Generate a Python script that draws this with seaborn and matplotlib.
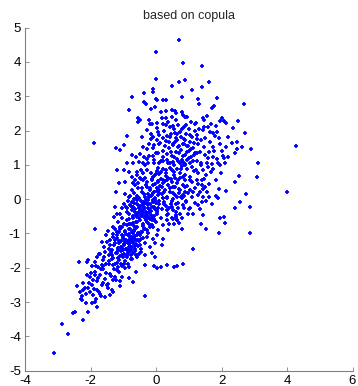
import matplotlib
matplotlib.use("Agg")
import matplotlib.pyplot as plt
import seaborn as sns
import pandas as pd

# Samples drawn from the copula-based joint distribution (x, y)
x_vals = [
    0.70, 0.01, 0.81, 1.39, 0.01, 0.89, 0.70, 1.63, 0.48, 1.39, 1.09, -0.08, -0.08, -0.36, -0.73, 0.80,
    1.87, -0.01, 0.02, 0.20, 0.31, 1.29, -0.36, -0.31, 1.31, 2.70, -0.02, -0.81, -0.16, 1.71, 1.77,
    -0.54, -0.50, -0.56, -0.22, 0.15, 0.30, 0.50, 0.57, 0.61, 0.78, 0.90, 0.95, 0.32, 0.48, 0.17, 0.02,
    -0.12, -0.18, 0.20, 0.30, 0.52, 0.68, 0.86, 1.06, 1.22, 1.42, 1.46, 1.56, 1.67, 1.94, 2.02, 2.09,
    2.15, 2.49, 2.36, 1.84, 1.60, 1.19, 1.30, -0.29, -0.88, 0.02, 0.42, 0.58, 0.78, 1.01, 1.44, 2.71,
    1.85, 1.73,
    -1.88, -1.21, -0.97, -0.09, 0.10, 0.33, 0.46, 0.61, 0.75, 0.92, 1.10, 1.24, 1.37, 1.49, 1.65, 1.91,
    1.95, 2.33, 2.46, 2.62, 2.89, 4.26, -0.41, -0.21, -0.06, 0.12, 0.28, 0.41, 0.53, 0.68, 0.82, 0.99,
    1.12, 1.29, 1.46, 1.74, 2.15, 2.47, 2.42, 2.00, 0.02, 0.22, -0.15, 0.58, 0.89, 1.04,
    -0.74, -0.61, -0.49, -0.37, -0.26, -0.10, 0.07, 0.20, 0.33, 0.45, 0.55, 0.71, 0.83, 0.96, 1.06, 1.19,
    1.34, 1.50, 1.63, 1.73, 1.85, 2.08, 2.20, -0.90, -0.69, -0.51, -0.39, -0.23, -0.06, 0.10, 0.22, 0.38,
    0.51, 0.63, 0.73, 0.81, 0.89, 0.94, 1.04, 1.24, 1.37, 1.55, 1.70, 1.95, 3.12, 2.12, -1.20, -0.98,
    -1.10,
    -0.81, -0.74, -0.59, -0.64, -0.47, -0.39, -0.28, -0.16, -0.08, 0.02, 0.10, 0.22, 0.31, 0.38, 0.48,
    0.55, 0.63, 0.73, 0.81, 0.94, 1.04, 1.16, 1.29, 1.44, 1.52, 1.60, 1.75, 2.52, 3.09, 2.41, 1.39, 1.24,
    1.09, 0.89, 0.68, 0.48, 0.22, 0.07, -0.13, -0.28, -0.54, -0.95, -1.12, -1.22, -0.69, -0.39, -0.03,
    0.33,
    -0.74, -0.67, -0.54, -0.44, -0.28, -0.18, -0.08, -0.06, 0.02, 0.10, 0.17, 0.24, 0.33, 0.43, 0.51,
    0.58, 0.65, 0.73, 0.81, 0.89, 0.99, 1.09, 1.19, 1.29, 1.39, 1.50, 1.55, 1.63, 2.15, 2.74, 3.99, 1.83,
    1.90, -0.84, -0.95, -0.59, -0.34, -0.13, 0.20, 0.53, 0.78, 1.04, 1.34, 1.44,
    -1.25, -1.10, -0.98, -0.90, -0.81, -0.74, -0.69, -0.64, -0.57, -0.51, -0.47, -0.41, -0.37, -0.31,
    -0.26, -0.20, -0.16, -0.10, -0.06, 0.02, 0.10, 0.17, 0.24, 0.31, 0.38, 0.45, 0.53, 0.61, 0.68, 0.81,
    0.92, 1.04, 1.14, 1.29, 1.39, 1.44, 2.56, 2.41, 2.86, -0.59, -0.79, -0.44, -0.54, -0.23, -0.03, 0.07,
    0.33, 0.48, 0.61, 0.73, 0.99, -0.34, -0.71, -1.05, -1.18,
    -1.27, -1.15, -1.05, -0.98, -0.90, -0.84, -0.77, -0.71, -0.67, -0.61, -0.57, -0.51, -0.47, -0.41,
    -0.37, -0.31, -0.26, -0.20, -0.13, -0.08, 0.00, 0.07, 0.14, 0.22, 0.33, 0.41, 0.48, 0.55, 0.63, 0.71,
    0.78, -1.85, -1.48, -1.30, -1.20, -1.10, -0.95, -0.74, -0.23, 1.37, 1.53, 1.91, 1.94, 2.08, 2.12,
    2.86, 0.38, 0.60, -0.59,
    -1.53, -1.40, -1.30, -1.25, -1.18, -1.12, -1.08, -1.02, -0.98, -0.92, -0.87, -0.83, -0.79, -0.74,
    -0.69, -0.64, -0.59, -0.54, -0.49, -0.41, -0.34, -0.26, -0.18, -0.10, -0.03, 0.20, 0.17, 1.12, -1.65,
    -1.60, -1.45, -1.35, -1.15, -1.00, -0.90, -1.05, -0.76, -0.66, -0.56, -0.45, 0.02, -0.95, -0.81,
    -1.81, -1.71, -1.61, -1.53, -1.45, -1.35, -1.25, -1.20, -1.12, -1.05, -0.98, -0.90, -0.81, -0.77,
    -0.69, -0.59, -0.51, -0.45, -0.34, -0.13, -0.03, -1.86, -1.76, -1.66, -1.30, -1.15, -0.95, -0.84,
    -0.34, -0.05, 0.02, 0.14, 0.33, 0.55, 0.65, 0.81, -2.35, -2.11, -2.09,
    -2.12, -2.01, -1.93, -1.86, -1.79, -1.71, -1.63, -1.56, -1.48, -1.40, -1.32, -1.25, -1.20, -1.10,
    -1.05, -0.81, -0.69, -0.61, -2.22, -1.96, -1.66, -1.51, -1.10,
    -2.40, -2.32, -2.27, -2.22, -2.14, -2.07, -2.01, -1.91, -1.81, -1.71, -1.56, -1.42, -1.35, -1.68,
    -1.83, -0.34, -2.27,
    -2.14, -2.09, -1.79, -1.86, -1.96, -2.52, -2.47, -2.22, -2.86, -2.68, -3.11,
]
y_vals = [
    4.65, 4.28, 3.98, 3.87, 3.50, 3.46, 3.40, 3.42, 3.29, 3.28, 3.18, 3.21, 3.12, 3.09, 2.97, 2.98,
    2.96, 2.92, 2.89, 2.89, 2.89, 2.92, 2.83, 2.77, 2.76, 2.77, 2.68, 2.60, 2.63, 2.67, 2.72,
    2.35, 2.30, 2.25, 2.32, 2.54, 2.58, 2.61, 2.57, 2.50, 2.53, 2.40, 2.38, 2.36, 2.40, 2.35, 2.23,
    2.20, 2.19, 2.19, 2.16, 2.13, 2.16, 2.11, 2.24, 2.23, 2.37, 2.32, 2.42, 2.19, 2.28, 2.35, 2.28,
    2.21, 2.27, 2.08, 2.13, 2.11, 2.18, 2.03, 2.02, 1.83, 2.07, 2.09, 1.94, 2.03, 2.03, 2.01, 1.92,
    1.96, 1.93,
    1.64, 1.49, 1.59, 1.82, 1.87, 1.84, 1.89, 1.78, 1.82, 1.89, 1.82, 1.87, 1.72, 1.77, 1.67, 1.79,
    1.62, 1.64, 1.67, 1.51, 1.47, 1.55, 1.53, 1.62, 1.59, 1.64, 1.55, 1.67, 1.59, 1.53, 1.60, 1.55,
    1.48, 1.62, 1.53, 1.53, 1.53, 1.45, 1.33, 1.41, 1.72, 1.77, 1.74, 1.67, 1.72, 1.67,
    1.28, 1.23, 1.31, 1.23, 1.18, 1.25, 1.33, 1.23, 1.31, 1.38, 1.23, 1.33, 1.25, 1.38, 1.23, 1.33,
    1.38, 1.28, 1.38, 1.23, 1.16, 1.21, 1.23, 1.04, 1.06, 1.09, 1.04, 1.06, 1.14, 1.04, 1.12, 1.04,
    1.09, 1.16, 1.04, 1.09, 1.02, 1.14, 1.06, 1.12, 1.04, 1.06, 1.02, 0.99, 1.06, 1.04, 0.85, 0.85,
    1.43,
    0.80, 0.65, 0.70, 0.55, 0.60, 0.75, 0.85, 0.77, 0.65, 0.83, 0.73, 0.89, 0.75, 0.63, 0.85,
    0.70, 0.89, 0.77, 0.65, 0.89, 0.65, 0.83, 0.75, 0.85, 0.70, 0.94, 0.89, 0.67, 0.65, 0.51, 0.55, 0.55,
    0.51, 0.55, 0.55, 0.51, 0.55, 0.51, 0.55, 0.51, 0.46, 0.51, 0.46, 0.21, 0.46, 0.55, 0.70,
    0.55,
    0.26, 0.17, 0.31, 0.21, 0.36, 0.26, 0.41, 0.21, 0.31, 0.17, 0.36, 0.21, 0.07, 0.31, 0.17,
    0.36, 0.07, 0.26, 0.12, 0.36, 0.17, 0.07, 0.31, 0.12, 0.41, 0.36, 0.21, 0.07, 0.24, 0.15, 0.21, 0.09,
    0.02, 0.07, 0.15, 0.02, 0.07, 0.12, 0.02, 0.00, 0.02, 0.26, 0.21, 0.07,
    -0.24, -0.42, -0.13, -0.27, -0.42, -0.08, -0.22, -0.37, -0.13, -0.27, -0.47, -0.08, -0.22, -0.37,
    -0.15, -0.30, -0.47, -0.08, -0.22, -0.37, -0.13, -0.30, -0.08, -0.20, -0.42, -0.13, -0.32, -0.47,
    -0.27, -0.17, -0.08, -0.27, -0.42, -0.17, -0.08, -0.47, -0.08, -0.27, -0.22, -0.03, -0.17, -0.17,
    -0.42, -0.03, -0.03, -0.27, -0.32, -0.24, -0.15, -0.42, -0.42, -0.50, -0.50, -0.27, -0.42,
    -0.52, -0.66, -0.56, -0.73, -0.61, -0.86, -0.71, -0.56, -0.90, -0.66, -0.81, -0.56, -0.95, -0.71,
    -0.86, -0.61, -0.90, -0.73, -0.56, -0.81, -0.66, -0.90, -0.56, -0.76, -0.61, -0.71, -0.56, -0.73,
    -0.61, -0.69, -0.86, -0.88, -0.92, -0.81, -0.95, -0.88, -0.95, -0.95, -1.00, -0.73, -0.86, -0.98,
    -0.56, -0.53, -0.69, -0.98, -0.90, -0.52, -0.52,
    -1.05, -1.18, -1.10, -1.29, -1.05, -1.21, -1.39, -1.13, -1.30, -1.44, -1.05, -1.20, -1.37, -1.10,
    -1.27, -1.44, -1.05, -1.20, -1.34, -1.13, -1.29, -1.10, -1.39, -1.15, -1.29, -1.15, -1.34, -1.44,
    -1.24, -1.39, -1.44, -1.47, -1.47, -1.49, -1.24, -1.05, -1.24, -1.13, -1.37, -1.44, -1.05, -1.18,
    -1.49,
    -1.68, -1.60, -1.78, -1.88, -1.63, -1.73, -1.88, -1.58, -1.78, -1.63, -1.88, -1.68, -1.54, -1.73,
    -1.58, -1.68, -1.60, -1.54, -1.63, -1.58, -1.68, -1.83, -1.98, -1.93, -1.93, -1.98, -2.02, -1.98,
    -1.93, -1.96, -2.02, -1.98, -1.91, -1.98, -1.94, -1.88, -1.83, -1.83, -1.78,
    -2.22, -2.26, -2.36, -2.12, -2.40, -2.22, -2.05, -2.32, -2.46, -2.17, -2.36, -2.26, -2.07, -2.40,
    -2.26, -2.29, -2.42, -2.12, -2.45, -2.50, -2.50, -2.51, -2.54,
    -2.54, -2.70, -2.83, -2.65, -2.75, -2.60, -2.70, -2.80, -2.65, -2.75, -2.85, -2.80, -2.65, -2.83,
    -2.90, -2.83, -2.95,
    -3.04, -3.28, -3.14, -2.99, -3.02, -3.33, -3.30, -3.53, -3.64, -3.92, -4.47,
]

# Additional samples in the dense parts of the cloud, as (x, y) pairs
core_mid = [
    (-0.85, -0.05), (-0.78, 0.08), (-0.72, -0.31), (-0.66, -0.12), (-0.62, -0.45), (-0.58, 0.10),
    (-0.53, -0.19), (-0.49, -0.62), (-0.46, -0.04), (-0.43, -0.35), (-0.40, -0.78), (-0.38, 0.14),
    (-0.35, -0.55), (-0.33, -0.10), (-0.29, -0.44), (-0.27, -0.68), (-0.24, -0.26), (-0.22, 0.05),
    (-0.19, -0.58), (-0.17, -0.14), (-0.14, -0.36), (-0.12, -0.75), (-0.09, -0.02), (-0.07, -0.49),
    (-0.04, -0.28), (-0.02, -0.64), (0.01, -0.12), (0.04, -0.44), (0.06, 0.12), (-0.88, -0.38),
    (-0.81, -0.58), (-0.76, -0.20), (-0.70, -0.70), (-0.64, -0.28), (-0.60, -0.83), (-0.55, -0.40),
    (-0.52, 0.02), (-0.48, -0.25), (-0.44, -0.50), (-0.41, -0.15), (-0.36, -0.30), (-0.32, -0.62),
    (-0.30, -0.02), (-0.25, -0.52), (-0.21, -0.38), (-0.18, -0.80), (-0.15, 0.10), (-0.11, -0.22),
    (-0.06, -0.58), (-0.03, 0.04), (-0.92, -0.22), (-0.83, -0.72), (-0.68, 0.00), (-0.57, -0.66),
    (-0.50, -0.34), (-0.39, -0.41), (-0.34, -0.86), (-0.23, -0.14), (-0.13, -0.62), (0.03, -0.33),
]
core_low = [
    (-1.32, -1.02), (-1.28, -1.35), (-1.24, -0.88), (-1.21, -1.58), (-1.19, -1.12), (-1.16, -1.41),
    (-1.13, -0.95), (-1.11, -1.66), (-1.08, -1.22), (-1.06, -1.50), (-1.04, -0.80), (-1.01, -1.08),
    (-0.99, -1.35), (-0.97, -1.60), (-0.95, -0.92), (-0.93, -1.18), (-0.91, -1.45), (-0.89, -0.75),
    (-0.87, -1.28), (-0.85, -1.55), (-0.83, -1.02), (-0.81, -1.32), (-0.79, -0.86), (-0.77, -1.15),
    (-0.75, -1.62), (-0.73, -1.40), (-0.71, -0.98), (-0.69, -1.22), (-0.67, -0.78), (-0.65, -1.50),
    (-0.63, -1.08), (-0.61, -1.30), (-1.26, -1.20), (-1.14, -1.28), (-1.10, -0.82), (-1.03, -1.42),
    (-1.00, -1.70), (-0.96, -1.25), (-0.92, -1.03), (-0.88, -1.62), (-0.84, -1.40), (-0.80, -1.10),
    (-0.76, -1.48), (-0.72, -1.26), (-0.68, -0.92), (-0.64, -1.36), (-0.60, -1.18), (-0.56, -0.98),
    (-0.53, -1.22), (-0.50, -1.05), (-0.46, -1.15), (-0.42, -0.96), (-1.36, -1.55), (-1.30, -1.72),
    (-1.18, -1.85), (-1.05, -1.95), (-0.94, -1.80), (-0.86, -1.90), (-0.74, -1.75), (-0.62, -1.62),
]
core_center = [
    (-0.18, 0.32), (-0.12, 0.60), (-0.08, 0.18), (-0.04, 0.44), (0.00, 0.72), (0.03, 0.25),
    (0.06, 0.52), (0.09, -0.05), (0.12, 0.38), (0.15, 0.80), (0.18, 0.14), (0.21, 0.46),
    (0.24, -0.15), (0.27, 0.28), (0.30, 0.66), (0.33, 0.02), (0.36, 0.40), (0.39, -0.26),
    (0.42, 0.20), (0.45, 0.58), (0.48, -0.05), (0.51, 0.34), (0.54, 0.78), (0.57, 0.12),
    (0.60, -0.38), (0.63, 0.48), (0.66, -0.12), (0.69, 0.30), (0.72, 0.62), (0.75, 0.05),
    (0.78, -0.55), (0.81, 0.42), (0.84, -0.25), (0.87, 0.22), (0.90, 0.70), (0.93, -0.05),
    (0.96, 0.38), (1.00, -0.30), (0.05, 0.92), (0.14, 0.58), (0.22, 0.02), (0.29, 0.86),
    (0.35, -0.45), (0.44, 0.92), (0.52, -0.58), (0.58, 0.62), (0.64, -0.62), (0.70, 0.18),
    (0.76, 0.88), (0.85, 0.08), (-0.25, 0.14), (-0.30, 0.40), (-0.35, 0.62), (-0.42, 0.32),
    (-0.50, 0.62), (-0.58, 0.80), (-0.65, 0.40), (-0.45, 0.85), (0.10, 0.28), (0.26, 0.52),
]
core_upper = [
    (0.35, 1.15), (0.40, 1.48), (0.44, 1.82), (0.48, 1.25), (0.52, 1.60), (0.56, 2.05),
    (0.60, 1.38), (0.64, 1.72), (0.68, 1.10), (0.72, 1.95), (0.76, 1.42), (0.80, 1.15),
    (0.84, 1.75), (0.88, 1.30), (0.92, 2.15), (0.96, 1.55), (1.00, 1.20), (1.04, 1.88),
    (1.08, 1.45), (1.12, 1.10), (1.16, 1.65), (1.20, 2.00), (1.24, 1.35), (0.30, 1.70),
    (0.25, 2.00), (0.20, 1.40), (0.15, 1.10), (0.10, 1.60), (0.05, 1.95), (0.00, 1.35),
    (-0.05, 1.05), (-0.10, 1.50), (-0.15, 1.90), (-0.20, 1.25), (-0.28, 1.45), (-0.35, 1.00),
    (-0.42, 1.80), (0.62, 2.30), (0.82, 2.45), (0.38, 2.25), (0.70, 1.55), (0.90, 1.00),
    (1.02, 1.40), (0.55, 1.00), (0.42, 1.05), (0.78, 0.98), (1.10, 0.95), (0.65, 1.90),
    (0.86, 1.62), (1.15, 1.30),
]
tail_low = [
    (-2.05, -2.45), (-1.98, -2.15), (-1.90, -2.62), (-1.84, -1.95), (-1.78, -2.30), (-1.73, -2.70),
    (-1.68, -2.05), (-1.62, -2.45), (-1.58, -1.70), (-1.52, -2.15), (-1.47, -2.60), (-1.43, -1.90),
    (-1.38, -2.25), (-1.34, -1.62), (-1.28, -2.05), (-1.22, -2.35), (-1.17, -1.72), (-1.12, -2.12),
    (-1.08, -1.88), (-1.45, -1.80), (-1.62, -1.95), (-1.85, -2.20), (-1.95, -1.95), (-2.18, -2.60),
    (-2.30, -2.92), (-1.30, -2.70), (-1.55, -1.55), (-1.75, -1.60), (-1.40, -1.35), (-1.50, -1.25),
]
flank_right = [
    (1.05, 0.55), (1.12, 0.20), (1.18, -0.10), (1.22, 0.85), (1.28, 0.45), (1.33, -0.30),
    (1.38, 1.00), (1.42, 0.30), (1.48, 0.60), (1.52, -0.05), (1.58, 1.20), (1.62, 0.45),
    (1.68, 0.80), (1.72, -0.15), (1.78, 1.40), (1.82, 0.55), (1.88, 1.05), (1.92, 0.30),
    (1.98, 0.75), (2.05, 1.25), (1.25, 1.75), (1.45, 2.10), (1.65, 1.95), (1.80, 1.85),
    (2.20, 1.80),
]

extra = core_mid + core_low + core_center + core_upper + tail_low + flank_right
df = pd.DataFrame({
    "x": x_vals + [p[0] for p in extra],
    "y": y_vals + [p[1] for p in extra],
})

sns.set_style("white")
plt.rcParams["font.family"] = ["Liberation Sans", "DejaVu Sans"]
plt.rcParams["axes.unicode_minus"] = False

fig = plt.figure(figsize=(3.58, 3.86), dpi=100)
ax = fig.add_axes([0.0698, 0.0396, 0.915, 0.889])

sns.scatterplot(data=df, x="x", y="y", ax=ax, marker="+", s=12,
                color="#0000ff", linewidth=1.3, legend=False)

ax.set_xlim(-4, 6)
ax.set_ylim(-5, 5)
ax.set_xticks(range(-4, 7, 2))
ax.set_yticks(range(-5, 6, 1))
ax.set_xlabel("")
ax.set_ylabel("")
ax.set_title("based on copula", fontsize=9, pad=6)

for side in ("top", "right"):
    ax.spines[side].set_visible(False)
for side in ("left", "bottom"):
    ax.spines[side].set_color("#808080")
    ax.spines[side].set_linewidth(0.8)
ax.tick_params(direction="in", length=3, width=0.6, color="#808080",
               labelsize=9.5, labelcolor="black", pad=3,
               left=True, bottom=True)

fig.savefig("out.png", dpi=100)
